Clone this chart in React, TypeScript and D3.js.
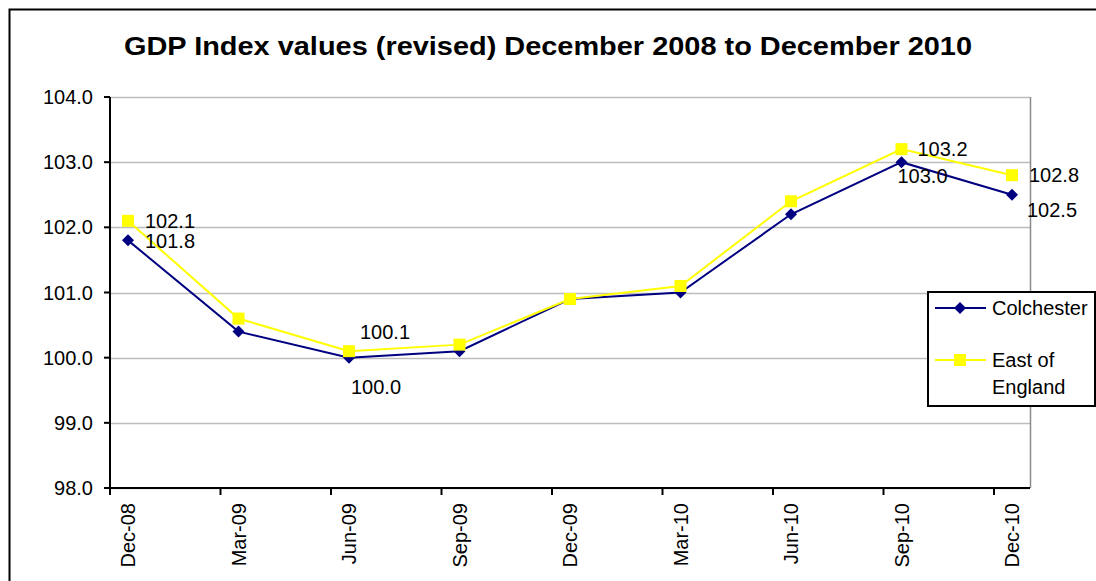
import React from "react";
import * as d3 from "d3";

const categories = ["Dec-08", "Mar-09", "Jun-09", "Sep-09", "Dec-09", "Mar-10", "Jun-10", "Sep-10", "Dec-10"];
const colchester = [101.8, 100.4, 100.0, 100.1, 100.9, 101.0, 102.2, 103.0, 102.5];
const eastOfEngland = [102.1, 100.6, 100.1, 100.2, 100.9, 101.1, 102.4, 103.2, 102.8];
const yTicks = [98, 99, 100, 101, 102, 103, 104];
const titleText = "GDP Index values (revised) December 2008 to December 2010";

// which points carry a value label (series, index)
const labelledColchester = [0, 2, 7, 8];
const labelledEast = [0, 2, 7, 8];

// label placement offsets (style only)
const colOffsets: Record<number, [number, number]> = {
  0: [17, 1],
  2: [2, 29],
  7: [-4, 14],
  8: [15, 15],
};
const eastOffsets: Record<number, [number, number]> = {
  0: [17, 0],
  2: [11, -19],
  7: [16, 0],
  8: [17, 0],
};

const W = 1096;
const H = 581;
const FONT = "Arial, 'Liberation Sans', sans-serif";

export default function App() {
  const left = 110, right = 1030, top = 97, bottom = 488;
  const x = d3.scalePoint<string>().domain(categories).range([128, 1012]);
  const y = d3.scaleLinear().domain([98, 104]).range([bottom, top]);
  const line = d3.line<number>().x((_, i) => x(categories[i])!).y((d) => y(d));
  const tickOffset = -18;

  const diamond = (cx: number, cy: number, r = 6) =>
    `M${cx},${cy - r}L${cx + r},${cy}L${cx},${cy + r}L${cx - r},${cy}Z`;

  return (
    <svg width={W} height={H} style={{ position: "absolute", left: 0, top: 0, background: "#fff" }} fontFamily={FONT}>
      <rect x={0} y={0} width={W} height={H} fill="#fff" />
      <rect x={9.5} y={9.5} width={1200} height={700} fill="none" stroke="#000" strokeWidth={2} />
      <text x={548} y={55} textAnchor="middle" fontWeight="bold" fontSize={25} textLength={848} lengthAdjust="spacingAndGlyphs" fill="#000">
        {titleText}
      </text>

      {/* gridlines */}
      {yTicks.map((t) => (
        <line key={t} x1={left} x2={right} y1={Math.round(y(t)) + 0.5} y2={Math.round(y(t)) + 0.5} stroke="#bdbdbd" strokeWidth={1.5} />
      ))}
      <line x1={right + 0.5} x2={right + 0.5} y1={top} y2={bottom} stroke="#8a8a8a" strokeWidth={1.5} />

      {/* y axis */}
      <line x1={left} x2={left} y1={top} y2={bottom + 1} stroke="#000" strokeWidth={2} />
      {yTicks.map((t) => (
        <g key={"yt" + t}>
          <line x1={left - 6} x2={left} y1={y(t)} y2={y(t)} stroke="#000" strokeWidth={2} />
          <text x={93} y={y(t)} dy="0.35em" textAnchor="end" fontSize={20} fill="#000">
            {t.toFixed(1)}
          </text>
        </g>
      ))}

      {/* x axis */}
      <line x1={left} x2={right} y1={bottom} y2={bottom} stroke="#000" strokeWidth={2} />
      {categories.map((c) => {
        const cx = x(c)!;
        return (
          <g key={c}>
            <line x1={cx + tickOffset} x2={cx + tickOffset} y1={bottom} y2={bottom + 7} stroke="#000" strokeWidth={2} />
            <text transform={`translate(${cx},${503}) rotate(-90)`} textAnchor="end" dy="0.35em" fontSize={20} fill="#000">
              {c}
            </text>
          </g>
        );
      })}

      {/* series: Colchester first, East of England drawn over it */}
      <path d={line(colchester)!} fill="none" stroke="#000080" strokeWidth={2} />
      {colchester.map((v, i) => (
        <path key={"c" + i} d={diamond(x(categories[i])!, y(v))} fill="#000080" />
      ))}
      <path d={line(eastOfEngland)!} fill="none" stroke="#ffff00" strokeWidth={2} />
      {eastOfEngland.map((v, i) => (
        <rect key={"e" + i} x={x(categories[i])! - 6} y={y(v) - 6} width={12} height={12} fill="#ffff00" />
      ))}

      {/* data labels */}
      {labelledEast.map((i) => {
        const [dx, dy] = eastOffsets[i];
        return (
          <text key={"el" + i} x={x(categories[i])! + dx} y={y(eastOfEngland[i]) + dy} dy="0.35em" fontSize={20} fill="#000">
            {eastOfEngland[i].toFixed(1)}
          </text>
        );
      })}
      {labelledColchester.map((i) => {
        const [dx, dy] = colOffsets[i];
        return (
          <text key={"cl" + i} x={x(categories[i])! + dx} y={y(colchester[i]) + dy} dy="0.35em" fontSize={20} fill="#000">
            {colchester[i].toFixed(1)}
          </text>
        );
      })}

      {/* legend */}
      <rect x={928} y={292} width={167} height={114} fill="#fff" stroke="#000" strokeWidth={2} />
      <line x1={935} x2={986} y1={308} y2={308} stroke="#000080" strokeWidth={2} />
      <path d={diamond(960, 308)} fill="#000080" />
      <text x={992} y={308} dy="0.35em" fontSize={20} fill="#000">Colchester</text>
      <line x1={935} x2={986} y1={360} y2={360} stroke="#ffff00" strokeWidth={2} />
      <rect x={954} y={354} width={12} height={12} fill="#ffff00" />
      <text x={992} y={360} dy="0.35em" fontSize={20} fill="#000">East of</text>
      <text x={992} y={387} dy="0.35em" fontSize={20} fill="#000">England</text>
    </svg>
  );
}
